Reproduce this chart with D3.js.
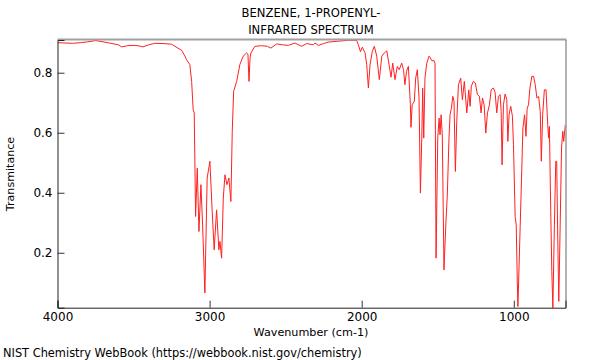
<!DOCTYPE html>
<html>
<head>
<meta charset="utf-8">
<script src="https://cdn.jsdelivr.net/npm/d3@7"></script>
<style>
  body { margin: 0; background: #fff; }
  text { font-family: 'DejaVu Sans', sans-serif; }
</style>
</head>
<body>
<svg width="600" height="360"></svg>
<script>
// spectrum, wavenumber (cm-1) and transmittance
let wavenumber = [4000, 3950, 3900, 3850, 3800, 3750, 3700, 3650, 3600, 3579, 3540, 3491, 3460, 3439, 3400, 3360, 3300, 3250, 3228, 3195,
  3184, 3163, 3151, 3130, 3118, 3108, 3101, 3092, 3081, 3070, 3057, 3046, 3031, 3016, 2998, 2983, 2970, 2954, 2939, 2932,
  2921, 2910, 2899, 2886, 2873, 2860, 2851, 2842, 2822, 2801, 2779, 2757, 2748, 2741, 2734, 2728, 2702, 2658, 2620, 2597,
  2559, 2520, 2483, 2439, 2395, 2362, 2318, 2307, 2285, 2252, 2220, 2154, 2088, 2044, 2033, 2022, 2008, 1996, 1978, 1967,
  1956, 1945, 1930, 1917, 1901, 1884, 1868, 1851, 1835, 1820, 1807, 1796, 1781, 1766, 1753, 1737, 1725, 1716, 1705, 1693,
  1680, 1676, 1668, 1654, 1645, 1634, 1623, 1614, 1605, 1599, 1592, 1584, 1572, 1557, 1550, 1539, 1524, 1518, 1511, 1500,
  1491, 1485, 1478, 1470, 1459, 1447, 1437, 1426, 1419, 1410, 1401, 1393, 1384, 1375, 1364, 1349, 1338, 1325, 1309, 1296,
  1287, 1279, 1266, 1253, 1239, 1226, 1215, 1206, 1195, 1184, 1173, 1160, 1149, 1134, 1123, 1112, 1101, 1090, 1083, 1077,
  1068, 1057, 1046, 1039, 1031, 1020, 1009, 1002, 991, 984, 977, 973, 965, 958, 949, 940, 929, 920, 912, 903,
  894, 881, 870, 859, 848, 837, 826, 819, 810, 799, 788, 777, 771, 766, 757, 750, 743, 733, 724, 718,
  711, 704, 695, 686, 678, 672, 661];
let transmittance = [0.900, 0.899, 0.898, 0.900, 0.903, 0.907, 0.903, 0.898, 0.893, 0.886, 0.890, 0.891, 0.889, 0.886, 0.893, 0.898, 0.897, 0.895, 0.888, 0.878,
  0.875, 0.856, 0.843, 0.827, 0.771, 0.677, 0.666, 0.321, 0.482, 0.271, 0.427, 0.293, 0.066, 0.449, 0.505, 0.338, 0.210, 0.343, 0.210, 0.238,
  0.182, 0.382, 0.460, 0.427, 0.449, 0.371, 0.605, 0.738, 0.771, 0.827, 0.855, 0.866, 0.862, 0.771, 0.850, 0.866, 0.888, 0.890, 0.888, 0.882,
  0.896, 0.893, 0.891, 0.899, 0.888, 0.897, 0.893, 0.899, 0.891, 0.897, 0.902, 0.905, 0.908, 0.908, 0.907, 0.893, 0.870, 0.885, 0.866, 0.827,
  0.749, 0.827, 0.871, 0.888, 0.855, 0.777, 0.855, 0.866, 0.873, 0.827, 0.785, 0.832, 0.777, 0.821, 0.810, 0.832, 0.810, 0.760, 0.805, 0.821,
  0.693, 0.618, 0.693, 0.705, 0.782, 0.810, 0.716, 0.399, 0.582, 0.749, 0.582, 0.782, 0.832, 0.855, 0.850, 0.840, 0.840, 0.832, 0.182, 0.582,
  0.649, 0.593, 0.660, 0.593, 0.143, 0.293, 0.393, 0.582, 0.660, 0.682, 0.721, 0.705, 0.471, 0.638, 0.760, 0.782, 0.710, 0.771, 0.666, 0.743,
  0.688, 0.755, 0.771, 0.766, 0.727, 0.721, 0.666, 0.716, 0.693, 0.599, 0.666, 0.693, 0.743, 0.749, 0.735, 0.666, 0.721, 0.727, 0.671, 0.493,
  0.693, 0.729, 0.710, 0.571, 0.660, 0.688, 0.655, 0.560, 0.321, 0.293, 0.105, 0.021, 0.160, 0.288, 0.449, 0.616, 0.660, 0.588, 0.682, 0.693,
  0.749, 0.788, 0.788, 0.760, 0.716, 0.721, 0.671, 0.505, 0.660, 0.743, 0.743, 0.627, 0.582, 0.621, 0.338, 0.138, 0.016, 0.293, 0.505, 0.505,
  0.249, 0.038, 0.293, 0.549, 0.605, 0.571, 0.627];

let xMajor = [4000, 3000, 2000, 1000];
let yMajor = [0.2, 0.4, 0.6, 0.8];
let titleLines = ['BENZENE, 1-PROPENYL-', 'INFRARED SPECTRUM'];

let svg = d3.select('svg'),
    plotLeft = 57.5, plotRight = 565.5, plotTop = 40, plotBottom = 307.7;

let x = d3.scaleLinear().domain([4000, 660]).range([plotLeft, plotRight]);
let y = d3.scaleLinear().domain([0.017, 0.909]).range([plotBottom, plotTop]);

let xMinor = d3.range(4000, 659, -100).filter(v => v % 1000 != 0);
let yMinor = d3.range(0.05, 0.9, 0.05).filter(v => Math.round(v * 100) % 20 != 0);

// clip so the deep bands stop at the frame
svg.append('clipPath').attr('id', 'plot')
  .append('rect').attr('x', plotLeft).attr('y', plotTop)
  .attr('width', plotRight - plotLeft).attr('height', plotBottom - plotTop);

svg.append('path')
  .datum(wavenumber.map((w, i) => [w, transmittance[i]]))
  .attr('clip-path', 'url(#plot)')
  .attr('fill', 'none')
  .attr('stroke', '#ff2020')
  .attr('stroke-width', 1)
  .attr('d', d3.line().x(d => x(d[0])).y(d => y(d[1])));

// frame: grey top and right
svg.append('line').attr('x1', plotLeft).attr('x2', plotRight + 1).attr('y1', plotTop - 0.5).attr('y2', plotTop - 0.5)
  .attr('stroke', '#a0a0a0').attr('stroke-width', 2);
svg.append('line').attr('x1', plotRight + 0.5).attr('x2', plotRight + 0.5).attr('y1', plotTop).attr('y2', plotBottom)
  .attr('stroke', '#666').attr('stroke-width', 1);

// axes with inward ticks
let gx = svg.append('g').attr('transform', 'translate(0,' + plotBottom + ')');
gx.call(d3.axisBottom(x).tickValues(xMinor).tickSize(-4).tickFormat(''));
gx.call(d3.axisBottom(x).tickValues(xMajor).tickSize(-7).tickPadding(5).tickFormat(d3.format('d')));

let gy = svg.append('g').attr('transform', 'translate(' + plotLeft + ',0)');
gy.call(d3.axisLeft(y).tickValues(yMinor).tickSize(-4).tickFormat(''));
gy.call(d3.axisLeft(y).tickValues(yMajor).tickSize(-7).tickPadding(5).tickFormat(d3.format('.1f')));

svg.selectAll('.domain').attr('stroke', '#222');
svg.selectAll('.tick line').attr('stroke', '#333');
svg.selectAll('.tick text').attr('font-size', 12).attr('fill', '#000').attr('font-family', 'DejaVu Sans, sans-serif');

svg.selectAll('.title').data(titleLines).enter().append('text')
  .attr('x', 311).attr('y', (d, i) => 17 + i * 17)
  .attr('text-anchor', 'middle').attr('font-size', 11.6)
  .text(d => d);

svg.append('text').attr('x', 311).attr('y', 336)
  .attr('text-anchor', 'middle').attr('font-size', 11.2)
  .text('Wavenumber (cm-1)');

svg.append('text').attr('transform', 'translate(14,174) rotate(-90)')
  .attr('text-anchor', 'middle').attr('font-size', 11.1)
  .text('Transmitance');

svg.append('text').attr('x', 3).attr('y', 357).attr('font-size', 11.4)
  .text('NIST Chemistry WebBook (https://webbook.nist.gov/chemistry)');
</script>
</body>
</html>
